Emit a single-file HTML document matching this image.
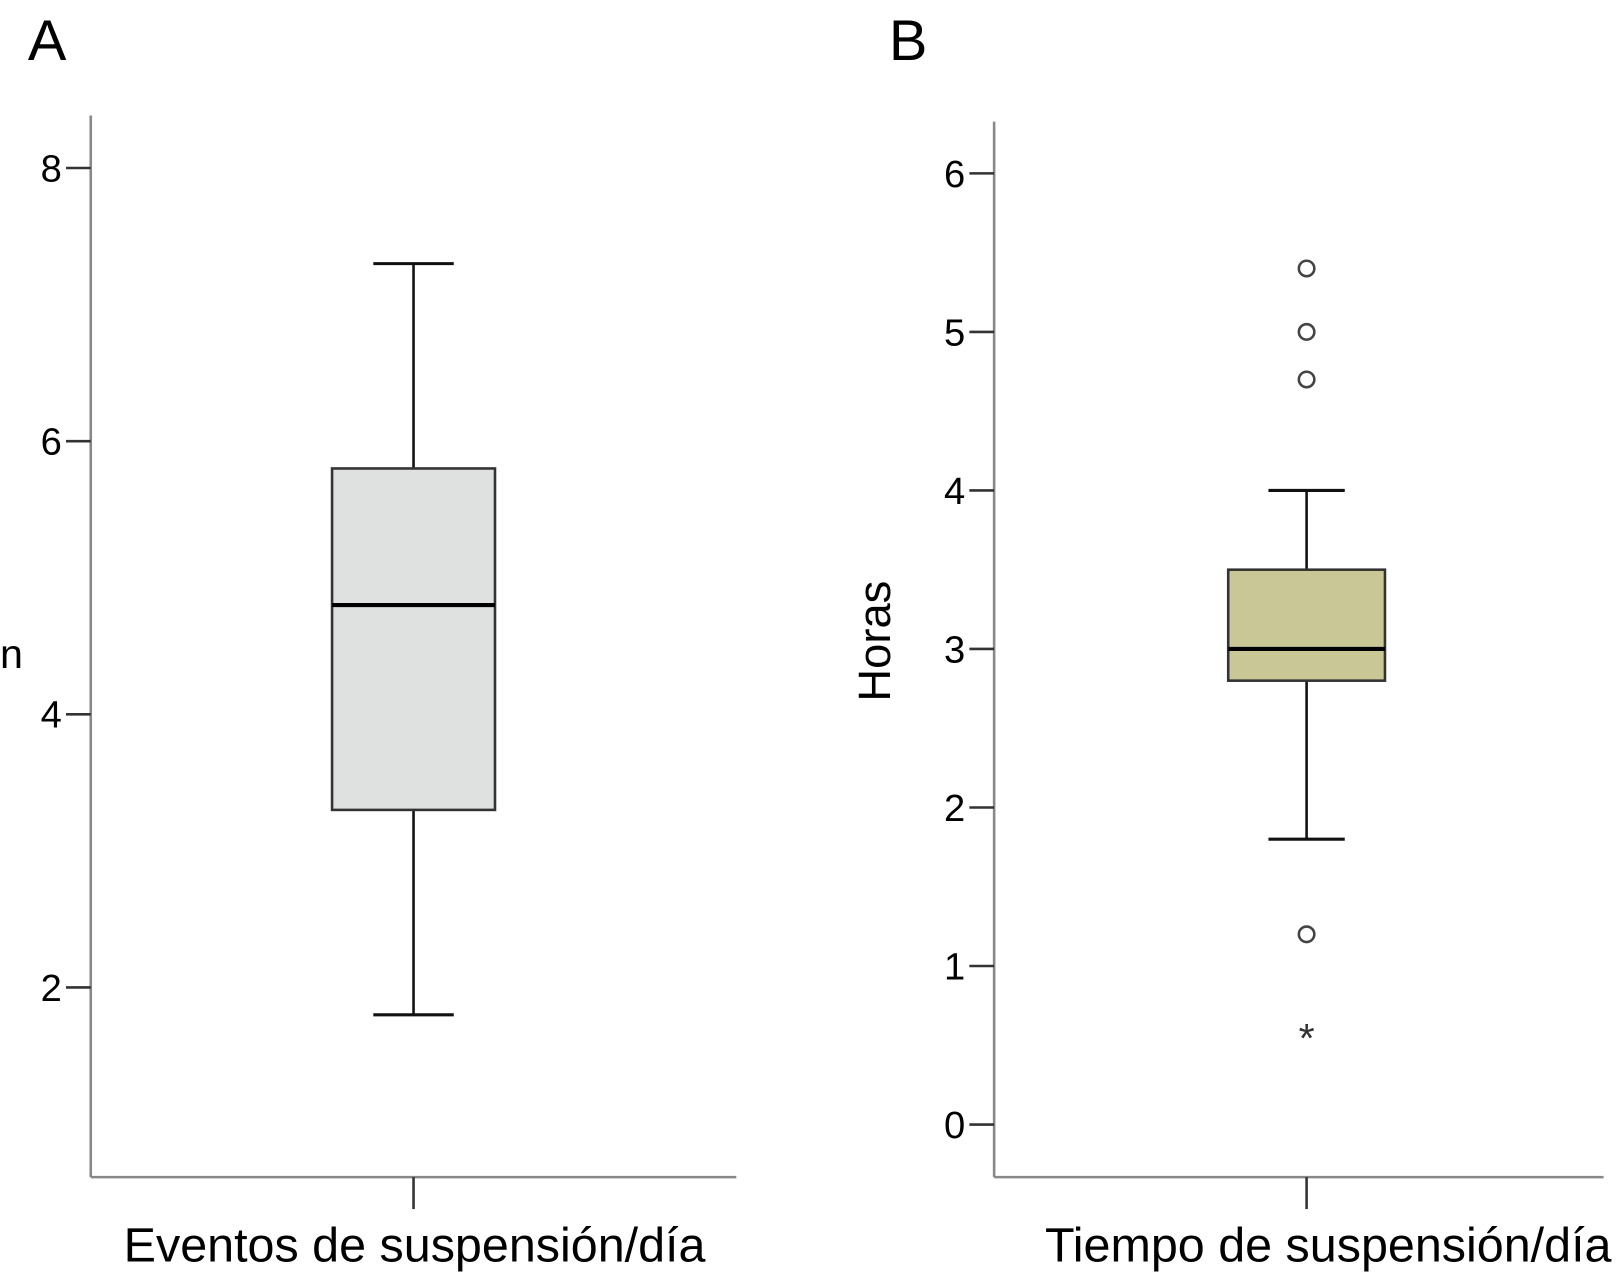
<!DOCTYPE html>
<html><head><meta charset="utf-8"><style>
html,body{margin:0;padding:0;background:#fff;}
svg{display:block;font-family:"Liberation Sans",Arial,sans-serif;}
</style></head><body>
<svg id="chart" width="1617" height="1274" viewBox="0 0 1568 1236" preserveAspectRatio="none">
<text x="27" y="58" font-size="56">A</text>
<text x="862" y="58" font-size="56">B</text>
<g id="pa"></g>
<g id="pb"></g>
</svg>
<script>
const aTicks=[2,4,6,8];
const aStats=[1.8,3.3,4.8,5.8,7.3]; // min,q1,median,q3,max
const aOutliers=[];
const aExtremes=[];
const bTicks=[0,1,2,3,4,5,6];
const bStats=[1.8,2.8,3.0,3.5,4.0];
const bOutliers=[5.4,5.0,4.7,1.2];
const bExtremes=[0.6];
const NS="http://www.w3.org/2000/svg";
function mk(p,t,a,txt){const e=document.createElementNS(NS,t);for(const k in a)e.setAttribute(k,a[k]);if(txt!==undefined)e.textContent=txt;p.appendChild(e);return e;}
function panel(g,cfg){
  const y=v=>cfg.y0+(v-cfg.v0)*cfg.k;
  let e;
  e=mk(g,'line',{x1:cfg.ax,y1:cfg.top,x2:cfg.ax,y2:1142,stroke:'#888','stroke-width':2.5});
  
  
  e=mk(g,'line',{x1:cfg.ax,y1:1142,x2:cfg.xr,y2:1142,stroke:'#888','stroke-width':2.5});
  
  
  cfg.ticks.forEach(t=>{
    e=mk(g,'line',{x1:cfg.ax-24,y1:y(t),x2:cfg.ax,y2:y(t),stroke:'#333','stroke-width':2.5});
    
    
    e=mk(g,'text',{x:cfg.ax-28,y:y(t)+13,'font-size':37,'text-anchor':'end'},String(t));
    
    
  });
  const cx=cfg.cx,s=cfg.stats;
  e=mk(g,'line',{x1:cx,y1:1142,x2:cx,y2:1173,stroke:'#333','stroke-width':2.5});
  
  
  e=mk(g,'text',{x:cx+cfg.lx,y:1224,'font-size':47,'text-anchor':'middle'},cfg.label);
  
  
  e=mk(g,'line',{x1:cx,y1:y(s[0]),x2:cx,y2:y(s[4]),stroke:'#111','stroke-width':2.5});
  
  
  [s[0],s[4]].forEach(v=>{
    e=mk(g,'line',{x1:cx-cfg.cap,y1:y(v),x2:cx+cfg.cap,y2:y(v),stroke:'#111','stroke-width':3});
    
    
  });
  e=mk(g,'rect',{x:cx-cfg.bw,y:y(s[3]),width:2*cfg.bw,height:y(s[1])-y(s[3]),fill:cfg.fill,stroke:'#333','stroke-width':2.5});
  
  
  e=mk(g,'line',{x1:cx-cfg.bw,y1:y(s[2]),x2:cx+cfg.bw,y2:y(s[2]),stroke:'#000','stroke-width':4});
  
  
  cfg.out.forEach(v=>{
    e=mk(g,'circle',{cx:cx,cy:y(v),r:7.5,fill:'none',stroke:'#444','stroke-width':2.5});
    
    
  });
  cfg.ext.forEach(v=>{
    e=mk(g,'text',{x:cx,y:y(v)+22,'font-size':40,'text-anchor':'middle',fill:'#333'},'*');
    
    
  });
}
panel(document.getElementById('pa'),{ax:88,top:112,xr:714,y0:163,v0:8,k:-132.5,ticks:aTicks,stats:aStats,out:aOutliers,ext:aExtremes,cx:401,lx:1,bw:79,cap:39,fill:'#dfe1e0',label:'Eventos de suspensión/día'});
panel(document.getElementById('pb'),{ax:964,top:118,xr:1555,y0:1091,v0:0,k:-153.8,ticks:bTicks,stats:bStats,out:bOutliers,ext:bExtremes,cx:1267,lx:21,bw:76,cap:37,fill:'#c9c796',label:'Tiempo de suspensión/día'});
const svg=document.getElementById('chart');
let t=mk(svg,'text',{x:0,y:648,'font-size':40},'n');


t=mk(svg,'text',{x:0,y:0,'font-size':44,'text-anchor':'middle',transform:'translate(863,622) rotate(-90)'},'Horas');


</script>
</body></html>
